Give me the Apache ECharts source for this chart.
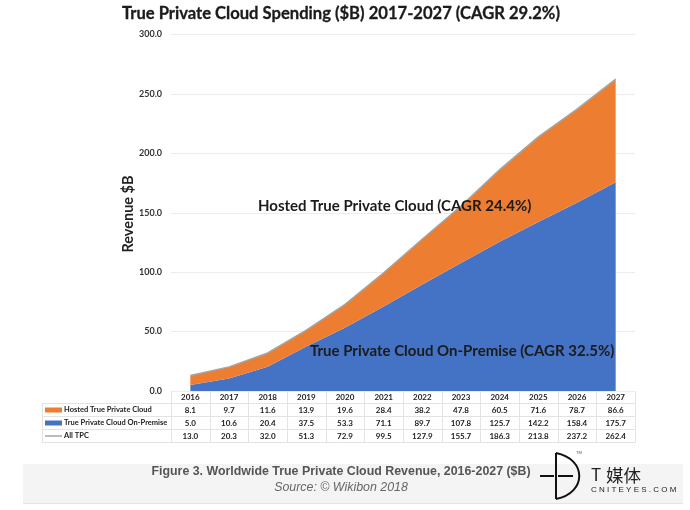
<!DOCTYPE html>
<html>
<head>
    <meta charset="utf-8">
    <title>True Private Cloud Spending</title>
    <script src="https://cdn.jsdelivr.net/npm/echarts@6/dist/echarts.min.js"></script>
    <style>html,body{margin:0;padding:0;background:#fff}</style>
</head>
<body>
    <div id="main" style="width:690px;height:510px;"></div>
    <script type="text/javascript">
        var years = ['2016','2017','2018','2019','2020','2021','2022','2023','2024','2025','2026','2027'];
        var hosted = [8.1,9.7,11.6,13.9,19.6,28.4,38.2,47.8,60.5,71.6,78.7,86.6];
        var onPremise = [5.0,10.6,20.4,37.5,53.3,71.1,89.7,107.8,125.7,142.2,158.4,175.7];
        var allTpc = [13.0,20.3,32.0,51.3,72.9,99.5,127.9,155.7,186.3,213.8,237.2,262.4];
        var rowNames = ['Hosted True Private Cloud','True Private Cloud On-Premise','All TPC'];

        var myChart = echarts.init(document.getElementById('main'));

        var latin = 'Lato, sans-serif';
        var gridLeft = 171, gridRight = 635, plotTop = 34.5, plotBottom = 391;
        var colW = (gridRight - gridLeft) / years.length;
        var rowYs = [410, 423, 436];

        // 数据表 + 图注 + 水印，都用 graphic 画
        var g = [];
        g.push({type:'rect', silent:true, shape:{x:23,y:464,width:660,height:39}, style:{fill:'#f4f4f4'}, z:0});
        g.push({type:'line', silent:true, shape:{x1:23,y1:503.5,x2:683,y2:503.5}, style:{stroke:'#e4e4e4',lineWidth:1}, z:0});

        function hline(x1, x2, y) {
            g.push({type:'line', silent:true, shape:{x1:x1,y1:y,x2:x2,y2:y}, style:{stroke:'#e3e3e3',lineWidth:1}});
        }
        function vline(x, y1, y2) {
            g.push({type:'line', silent:true, shape:{x1:x,y1:y1,x2:x,y2:y2}, style:{stroke:'#e3e3e3',lineWidth:1}});
        }
        hline(42, gridRight, 403.5);
        hline(42, gridRight, 416.5);
        hline(42, gridRight, 429.5);
        hline(42, gridRight, 442.5);
        vline(42.5, 403.5, 442.5);
        for (var c = 0; c <= years.length; c++) {
            vline(Math.round(gridLeft + c * colW) + 0.5, 391.5, 442.5);
        }

        var rows = [hosted, onPremise, allTpc];
        years.forEach(function (yr, i) {
            var x = gridLeft + (i + 0.5) * colW;
            rows.forEach(function (r, k) {
                g.push({type:'text', silent:true, x:x, y:rowYs[k], style:{
                    text:r[i].toFixed(1), fill:'#222', font:'bold 8px ' + latin, align:'center', verticalAlign:'middle'
                }});
            });
        });
        rowNames.forEach(function (name, k) {
            g.push({type:'text', silent:true, x:64, y:rowYs[k], style:{
                text:name, fill:'#222', font:'bold 7.5px ' + latin, align:'left', verticalAlign:'middle'
            }});
        });
        g.push({type:'rect', silent:true, shape:{x:45,y:rowYs[0]-2.5,width:17,height:5}, style:{fill:'#ed7d31'}});
        g.push({type:'rect', silent:true, shape:{x:45,y:rowYs[1]-2.5,width:17,height:5}, style:{fill:'#4472c4'}});
        g.push({type:'line', silent:true, shape:{x1:45,y1:rowYs[2],x2:62,y2:rowYs[2]}, style:{stroke:'#a5a5a5',lineWidth:1.5}});

        // 标注
        g.push({type:'text', silent:true, z:20, x:258, y:206.5, style:{text:'Hosted True Private Cloud (CAGR 24.4%)', fill:'#1b1b1b', font:'bold 15px ' + latin, verticalAlign:'middle'}});
        g.push({type:'text', silent:true, z:20, x:310, y:351.5, style:{text:'True Private Cloud On-Premise (CAGR 32.5%)', fill:'#1b1b1b', font:'bold 15px ' + latin, verticalAlign:'middle'}});
        // y 轴名称，axis name 的 nameGap 不起作用，改用 graphic
        g.push({type:'text', silent:true, z:20, x:128, y:214, rotation:Math.PI / 2, style:{text:'Revenue $B', fill:'#222', font:'bold 14.5px ' + latin, align:'center', verticalAlign:'middle'}});

        // 图注
        g.push({type:'text', silent:true, x:341, y:472, z:5, style:{text:'Figure 3. Worldwide True Private Cloud Revenue, 2016-2027 ($B)', fill:'#555', font:'bold 12.4px "Liberation Sans"', align:'center', verticalAlign:'middle'}});
        g.push({type:'text', silent:true, x:341, y:488, z:5, style:{text:'Source: © Wikibon 2018', fill:'#666', font:'italic 12.4px "Liberation Sans"', align:'center', verticalAlign:'middle'}});

        // 水印 logo
        g.push({type:'line', silent:true, z:6, shape:{x1:556,y1:453,x2:556,y2:499}, style:{stroke:'#111',lineWidth:2}});
        g.push({type:'bezierCurve', silent:true, z:6, shape:{x1:556,y1:453,cpx1:587,cpy1:459,cpx2:587,cpy2:493,x2:556,y2:499}, style:{fill:'none',stroke:'#111',lineWidth:2}});
        g.push({type:'line', silent:true, z:6, shape:{x1:540,y1:476,x2:554,y2:476}, style:{stroke:'#111',lineWidth:2}});
        g.push({type:'line', silent:true, z:6, shape:{x1:558,y1:476,x2:573,y2:476}, style:{stroke:'#111',lineWidth:2}});
        g.push({type:'text', silent:true, z:6, x:576, y:451, style:{text:'TM', fill:'#555', font:'4px "Liberation Sans"'}});
        g.push({type:'text', silent:true, z:6, x:591, y:475, style:{text:'T', fill:'#222', font:'17px "Noto Sans CJK SC"', verticalAlign:'middle'}});
        g.push({type:'text', silent:true, z:6, x:606, y:475, style:{text:'媒体', fill:'#222', font:'17.5px "Noto Sans CJK SC"', verticalAlign:'middle'}});
        g.push({type:'text', silent:true, z:6, x:591, y:490, style:{text:'C N I T E Y E S . C O M', fill:'#222', font:'8px "Liberation Sans"', verticalAlign:'middle'}});

        myChart.setOption({
            animation: false,
            backgroundColor: '#fff',
            title: {
                text: 'True Private Cloud Spending ($B) 2017-2027 (CAGR 29.2%)',
                left: 117, top: 0,
                textStyle: {fontFamily:'Lato', fontWeight:'bold', fontSize:16.6, color:'#1b1b1b', textBorderColor:'#1b1b1b', textBorderWidth:0.3}
            },
            grid: {left: gridLeft, right: 690 - gridRight, top: plotTop, bottom: 510 - plotBottom},
            xAxis: {
                type: 'category',
                data: years,
                axisLine: {show:false},
                axisTick: {show:false},
                axisLabel: {fontFamily:'Lato', fontWeight:'bold', fontSize:8, color:'#222', margin:2, interval:0}
            },
            yAxis: {
                type: 'value',
                min: 0, max: 300, interval: 50,
                axisLabel: {formatter: function (v) { return v.toFixed(1); }, fontFamily:'Lato', fontWeight:'bold', fontSize:9, color:'#333', margin:9},
                splitLine: {lineStyle:{color:'#ececec'}},
                axisLine: {show:false},
                axisTick: {show:false}
            },
            series: [
                {name:rowNames[1], type:'line', stack:'tpc', data:onPremise, symbol:'none',
                 lineStyle:{width:0}, itemStyle:{color:'#4472c4'}, areaStyle:{color:'#4472c4', opacity:1}},
                {name:rowNames[0], type:'line', stack:'tpc', data:hosted, symbol:'none',
                 lineStyle:{width:0}, itemStyle:{color:'#ed7d31'}, areaStyle:{color:'#ed7d31', opacity:1}},
                {name:rowNames[2], type:'line', data:allTpc, symbol:'none',
                 lineStyle:{width:1.5, color:'#a5a5a5'}, itemStyle:{color:'#a5a5a5'}}
            ],
            graphic: {elements: g}
        });
    </script>
</body>
</html>
